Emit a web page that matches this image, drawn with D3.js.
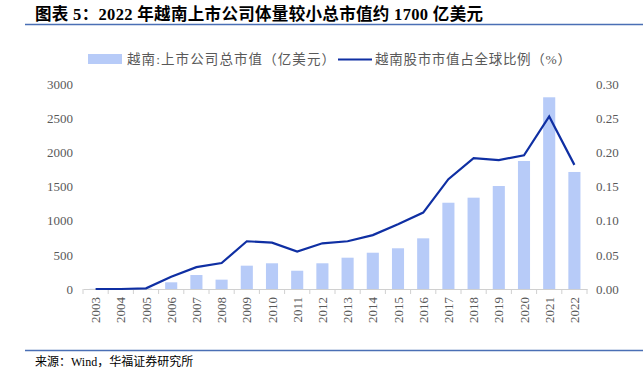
<!DOCTYPE html>
<html>
<head>
<meta charset="utf-8">
<script src="https://cdn.jsdelivr.net/npm/d3@7"></script>
<style>
  body { margin: 0; background: #fff; }
</style>
</head>
<body>
<div id="chart"></div>
<script>
// data
var years = ["2003","2004","2005","2006","2007","2008","2009","2010","2011","2012",
             "2013","2014","2015","2016","2017","2018","2019","2020","2021","2022"];
var marketCap = [3, 5, 8, 98, 205, 137, 342, 377, 268, 377,
                 459, 532, 597, 743, 1265, 1339, 1510, 1877, 2811, 1716];
var globalShare = [0.000, 0.000, 0.001, 0.018, 0.032, 0.038, 0.070, 0.068, 0.055, 0.067,
                   0.070, 0.079, 0.095, 0.112, 0.161, 0.192, 0.189, 0.196, 0.253, 0.182];
var leftTicks = [0, 500, 1000, 1500, 2000, 2500, 3000];
var rightTicks = [0, 0.05, 0.10, 0.15, 0.20, 0.25, 0.30];

var W = 643, H = 373;
var serif = "'Liberation Serif', 'Noto Sans CJK SC', serif";
var svg = d3.select("#chart").append("svg")
    .attr("width", W)
    .attr("height", H)
    .attr("font-family", serif);

// title and rules
svg.append("text")
    .attr("x", 35).attr("y", 20)
    .attr("font-size", 16.5)
    .attr("font-weight", "bold")
    .attr("fill", "#000")
    .attr("textLength", 448)
    .attr("lengthAdjust", "spacing")
    .text("图表 5：2022 年越南上市公司体量较小总市值约 1700 亿美元");
svg.append("line")
    .attr("x1", 25).attr("x2", W).attr("y1", 24.5).attr("y2", 24.5)
    .attr("stroke", "#4a6fb5").attr("stroke-width", 1.3);
svg.append("line")
    .attr("x1", 25).attr("x2", W).attr("y1", 350.5).attr("y2", 350.5)
    .attr("stroke", "#4a6fb5").attr("stroke-width", 1.3);
svg.append("text")
    .attr("x", 35).attr("y", 366)
    .attr("font-size", 12)
    .attr("fill", "#000")
    .text("来源：Wind，华福证券研究所");

// scales
var x = d3.scaleBand().domain(years).range([83, 587]).paddingInner(0.52).paddingOuter(0.26);
var xc = function(d) { return x(d) + x.bandwidth() / 2; };
var yL = d3.scaleLinear().domain([0, 3000]).range([289, 84.4]);
var yR = d3.scaleLinear().domain([0, 0.30]).range([289, 84.4]);

var barColor = "#b7cbf8", lineColor = "#0f2fa3", textColor = "#595959";

// bars
svg.append("g").selectAll("rect")
    .data(years)
    .enter().append("rect")
    .attr("x", function(d) { return x(d); })
    .attr("width", x.bandwidth())
    .attr("y", function(d, i) { return yL(marketCap[i]); })
    .attr("height", function(d, i) { return yL(0) - yL(marketCap[i]); })
    .attr("fill", barColor);

// x axis
var xAxis = svg.append("g")
    .attr("transform", "translate(0," + yL(0) + ")")
    .call(d3.axisBottom(x).tickSize(0).tickPadding(0))
    .attr("font-family", serif);
xAxis.select(".domain").attr("stroke", "#d0d0d0");
xAxis.selectAll(".tick text")
    .attr("font-size", 13)
    .attr("fill", textColor)
    .attr("transform", "rotate(-90)")
    .attr("text-anchor", "end")
    .attr("x", -8)
    .attr("y", 0)
    .attr("dy", "0.35em");
// boundary ticks between categories
svg.append("g").selectAll("line")
    .data(d3.range(years.length + 1))
    .enter().append("line")
    .attr("x1", function(i) { return 83 + i * (587 - 83) / years.length; })
    .attr("x2", function(i) { return 83 + i * (587 - 83) / years.length; })
    .attr("y1", yL(0)).attr("y2", yL(0) + 5)
    .attr("stroke", "#d0d0d0");

// left axis
var left = svg.append("g")
    .attr("transform", "translate(73,0)")
    .call(d3.axisLeft(yL).tickValues(leftTicks).tickSize(0).tickPadding(0).tickFormat(d3.format("d")))
    .attr("font-family", serif);
left.select(".domain").remove();
left.selectAll("text").attr("font-size", 13).attr("fill", textColor);

// right axis
var right = svg.append("g")
    .attr("transform", "translate(596,0)")
    .call(d3.axisRight(yR).tickValues(rightTicks).tickSize(0).tickPadding(0).tickFormat(d3.format(".2f")))
    .attr("font-family", serif);
right.select(".domain").remove();
right.selectAll("text").attr("font-size", 13).attr("fill", textColor);

// share line
svg.append("path")
    .datum(globalShare)
    .attr("d", d3.line()
        .x(function(d, i) { return xc(years[i]); })
        .y(function(d) { return yR(d); }))
    .attr("fill", "none")
    .attr("stroke", lineColor)
    .attr("stroke-width", 2.2);

// legend
svg.append("rect")
    .attr("x", 88).attr("y", 54).attr("width", 34).attr("height", 10)
    .attr("fill", barColor);
svg.append("text")
    .attr("x", 127).attr("y", 64)
    .attr("font-size", 13.5).attr("fill", textColor)
    .attr("textLength", 208).attr("lengthAdjust", "spacing")
    .text("越南:上市公司总市值（亿美元）");
svg.append("line")
    .attr("x1", 338).attr("x2", 372).attr("y1", 59.5).attr("y2", 59.5)
    .attr("stroke", lineColor).attr("stroke-width", 2.2);
svg.append("text")
    .attr("x", 375).attr("y", 64)
    .attr("font-size", 13.5).attr("fill", textColor)
    .attr("textLength", 196).attr("lengthAdjust", "spacing")
    .text("越南股市市值占全球比例（%）");
</script>
</body>
</html>
